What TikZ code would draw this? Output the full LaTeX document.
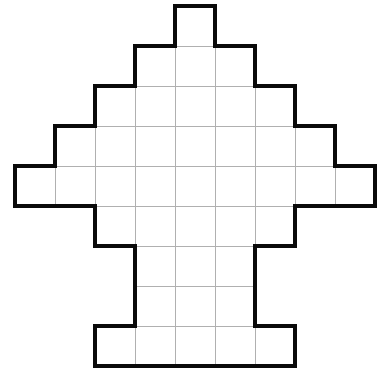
\documentclass[tikz,border=0pt]{standalone}
\usepackage{tikz}

\definecolor{cellGrid}{HTML}{B0B0B0}
\definecolor{cellEdge}{HTML}{0A0A0A}

\begin{document}
\begin{tikzpicture}[x=1cm,y=1cm]

  % Frame
  \useasboundingbox (-0.375,-0.1) rectangle (9.325,9.15);

  \def\outline{(2,0) -- (7,0) -- (7,1) -- (6,1) -- (6,3) -- (7,3) -- (7,4)
    -- (9,4) -- (9,5) -- (8,5) -- (8,6) -- (7,6) -- (7,7) -- (6,7) -- (6,8)
    -- (5,8) -- (5,9) -- (4,9) -- (4,8) -- (3,8) -- (3,7) -- (2,7) -- (2,6)
    -- (1,6) -- (1,5) -- (0,5) -- (0,4) -- (2,4) -- (2,3) -- (3,3) -- (3,1)
    -- (2,1) -- cycle}

  % Cells
  \begin{scope}
    \clip \outline;
    \draw[cellGrid,line width=0.5pt] (0,0) grid (9,9);
  \end{scope}

  % Border
  \draw[cellEdge,line width=3.5pt,line join=miter] \outline;

\end{tikzpicture}
\end{document}
